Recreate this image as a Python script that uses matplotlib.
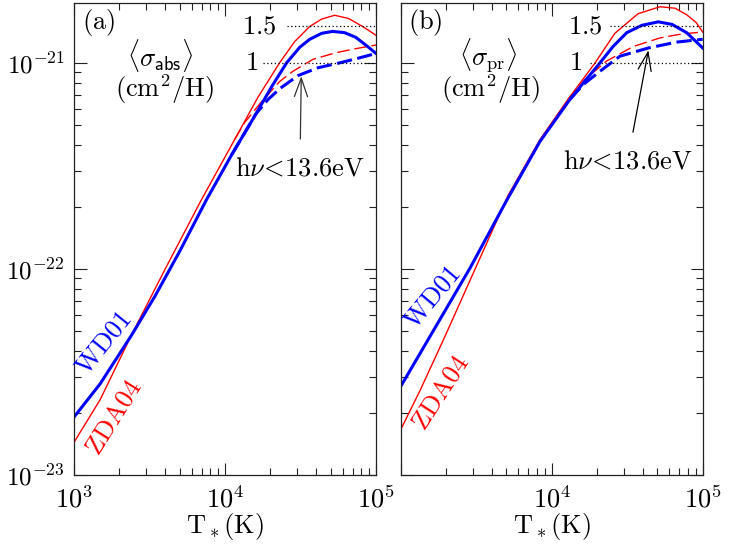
import math
import matplotlib
matplotlib.use("Agg")
import matplotlib.pyplot as plt
from matplotlib.ticker import FixedLocator, FuncFormatter, NullFormatter

plt.rcParams['mathtext.fontset'] = 'cm'
plt.rcParams['font.family'] = ['DejaVu Serif']

# ---------------- data ----------------
# Panel (a): <sigma_abs>  (cm^2/H) vs T_* (K)
a_wd_T = [1000, 1490, 2410, 3440, 5020, 7550, 11100, 16100, 20400, 25600,
          31300, 36400, 43700, 51600, 61900, 73300, 86700, 100000]
a_wd_S = [1.91e-23, 2.77e-23, 4.78e-23, 7.38e-23, 1.22e-22, 2.17e-22, 3.59e-22,
          5.68e-22, 7.67e-22, 1.00e-21, 1.19e-21, 1.30e-21, 1.39e-21, 1.42e-21,
          1.40e-21, 1.33e-21, 1.21e-21, 1.11e-21]
a_zd_T = [1000, 1490, 2410, 4000, 6920, 11600, 16500, 23000, 29000, 36400,
          43700, 53200, 65900, 81500, 100000]
a_zd_S = [1.44e-23, 2.32e-23, 4.80e-23, 9.93e-23, 2.14e-22, 4.25e-22, 6.79e-22,
          1.00e-21, 1.27e-21, 1.50e-21, 1.63e-21, 1.70e-21, 1.64e-21, 1.50e-21,
          1.36e-21]
a_wd13_T = [11100, 16100, 19300, 23000, 30500, 41300, 57800, 78000, 100000]
a_wd13_S = [3.59e-22, 5.68e-22, 6.64e-22, 7.48e-22, 8.67e-22, 9.46e-22,
            1.00e-21, 1.057e-21, 1.11e-21]
a_zd13_T = [11600, 13500, 17500, 23000, 28200, 38300, 54600, 73100, 100000]
a_zd13_S = [4.25e-22, 5.13e-22, 6.49e-22, 8.11e-22, 9.10e-22, 1.04e-21,
            1.12e-21, 1.17e-21, 1.22e-21]

# Panel (b): <sigma_pr>  (cm^2/H) vs T_* (K)
b_wd_T = [1000, 1560, 2880, 4980, 8360, 13200, 16600, 20900, 25500, 31400,
          39600, 50800, 62700, 78300, 100000]
b_wd_S = [2.69e-23, 4.69e-23, 1.01e-22, 2.12e-22, 4.15e-22, 6.64e-22, 8.16e-22,
          1.00e-21, 1.20e-21, 1.40e-21, 1.52e-21, 1.58e-21, 1.535e-21, 1.40e-21,
          1.18e-21]
b_zd_T = [1000, 1340, 1960, 3100, 5140, 8360, 12800, 19400, 26200, 37300,
          52100, 65600, 78300, 90400, 100000]
b_zd_S = [1.66e-23, 2.56e-23, 4.69e-23, 9.93e-23, 2.27e-22, 4.24e-22, 6.64e-22,
          1.00e-21, 1.39e-21, 1.73e-21, 1.87e-21, 1.84e-21, 1.71e-21, 1.57e-21,
          1.41e-21]
b_wd13_T = [13200, 16200, 20900, 28300, 43700, 67300, 100000]
b_wd13_S = [6.64e-22, 7.85e-22, 9.10e-22, 1.076e-21, 1.18e-21, 1.26e-21, 1.30e-21]
b_zd13_T = [12800, 16600, 23100, 34800, 52100, 72900, 100000]
b_zd13_S = [6.64e-22, 8.30e-22, 1.02e-21, 1.20e-21, 1.32e-21, 1.38e-21, 1.41e-21]

x_lim = (1e3, 1e5)
y_lim = (1e-23, 1.95e-21)
x_major = [1e3, 1e4, 1e5]
y_major = [1e-23, 1e-22, 1e-21]
ref_levels = [1.0e-21, 1.5e-21]
ref_labels = ['1', '1.5']

BLUE = '#0000ff'
RED = '#ff0000'
FS = 19

fig = plt.figure(figsize=(7.29, 5.45), dpi=100)
W, H = 729.0, 545.0
ax_a = fig.add_axes([74 / W, 1 - 475 / H, 302 / W, 472 / H])
ax_b = fig.add_axes([400.7 / W, 1 - 475 / H, 302 / W, 472 / H])


def minor_ticks(lo_exp, hi_exp, lo, hi):
    out = []
    for e in range(lo_exp, hi_exp + 1):
        for m in range(2, 10):
            v = m * 10.0 ** e
            if lo < v < hi:
                out.append(v)
    return out


def style_axes(ax, hide_first_x):
    ax.set_xscale('log')
    ax.set_yscale('log')
    ax.set_xlim(*x_lim)
    ax.set_ylim(*y_lim)
    ax.xaxis.set_major_locator(FixedLocator(x_major))
    ax.yaxis.set_major_locator(FixedLocator(y_major))
    ax.xaxis.set_minor_locator(FixedLocator(minor_ticks(3, 4, *x_lim)))
    ax.yaxis.set_minor_locator(FixedLocator(minor_ticks(-23, -21, *y_lim)))

    def fx(v, p):
        if hide_first_x and abs(v - x_lim[0]) < 1:
            return ''
        return r'$10^{%d}$' % round(math.log10(v))
    ax.xaxis.set_major_formatter(FuncFormatter(fx))
    ax.yaxis.set_major_formatter(FuncFormatter(lambda v, p: r'$10^{%d}$' % round(math.log10(v))))
    ax.xaxis.set_minor_formatter(NullFormatter())
    ax.yaxis.set_minor_formatter(NullFormatter())
    ax.tick_params(which='both', direction='in', top=True, right=True,
                   width=0.8, colors='#222222', labelsize=FS, labelcolor='black')
    ax.tick_params(which='major', length=9)
    ax.tick_params(which='minor', length=5)
    ax.tick_params(axis='x', which='major', pad=8)
    ax.tick_params(axis='y', which='major', pad=7, labelsize=18)
    if hide_first_x:
        ax.tick_params(axis='y', labelleft=False)
    for s in ax.spines.values():
        s.set_linewidth(0.9)
        s.set_color('#222222')
    ax.set_xlabel(r'$\mathrm{T}_*(\mathrm{K})$', fontsize=FS, labelpad=-1)


def draw_panel(ax, zd_T, zd_S, wd_T, wd_S, zd13_T, zd13_S, wd13_T, wd13_S):
    ax.plot(zd_T, zd_S, color=RED, lw=1.0)
    ax.plot(zd13_T, zd13_S, color=RED, lw=1.0, dashes=(9, 3.5))
    ax.plot(wd_T, wd_S, color=BLUE, lw=2.2)
    ax.plot(wd13_T, wd13_S, color=BLUE, lw=2.2, dashes=(5, 1.8))


style_axes(ax_a, False)
style_axes(ax_b, True)

draw_panel(ax_a, a_zd_T, a_zd_S, a_wd_T, a_wd_S, a_zd13_T, a_zd13_S, a_wd13_T, a_wd13_S)
draw_panel(ax_b, b_zd_T, b_zd_S, b_wd_T, b_wd_S, b_zd13_T, b_zd13_S, b_wd13_T, b_wd13_S)

# reference dotted levels and their labels
dot_start_a = [17800, 25600]
dot_start_b = [17900, 24300]
lab_x_a = [16500, 22000]
lab_x_b = [15900, 21500]
for ax, starts, labx in ((ax_a, dot_start_a, lab_x_a), (ax_b, dot_start_b, lab_x_b)):
    for lev, lab, x0, xl in zip(ref_levels, ref_labels, starts, labx):
        ax.plot([x0, x_lim[1]], [lev, lev], color='black', lw=0.9, ls=(0, (1, 2)))
        ax.text(xl, lev, r'$%s$' % lab, fontsize=FS, ha='right', va='center')

# panel labels and quantity labels
ax_a.text(0.026, 0.958, r'$(\mathrm{a})$', transform=ax_a.transAxes, fontsize=FS,
          ha='left', va='center')
ax_b.text(0.024, 0.958, r'$(\mathrm{b})$', transform=ax_b.transAxes, fontsize=FS,
          ha='left', va='center')
ax_a.text(0.285, 0.888, r'$\langle\sigma_{\mathsf{abs}}\rangle$', transform=ax_a.transAxes,
          fontsize=FS, ha='center', va='center')
ax_b.text(0.29, 0.888, r'$\langle\sigma_{\mathrm{pr}}\rangle$', transform=ax_b.transAxes,
          fontsize=FS, ha='center', va='center')
for ax, xc in ((ax_a, 0.298), (ax_b, 0.296)):
    ax.text(xc, 0.818, r'$(\mathrm{cm}^2/\mathrm{H})$', transform=ax.transAxes,
            fontsize=FS, ha='center', va='center')

# h nu < 13.6 eV annotations
ax_a.annotate(r'$\mathrm{h}\nu\!<\!13.6\mathrm{eV}$', xy=(32000, 8.6e-22),
              xytext=(0.748, 0.65), textcoords='axes fraction', fontsize=FS,
              ha='center', va='center',
              arrowprops=dict(arrowstyle='->,head_length=0.7,head_width=0.25',
                              color='#333333', lw=0.9, shrinkA=10, shrinkB=0))
ax_b.annotate(r'$\mathrm{h}\nu\!<\!13.6\mathrm{eV}$', xy=(43700, 1.15e-21),
              xytext=(0.751, 0.665), textcoords='axes fraction', fontsize=FS,
              ha='center', va='center',
              arrowprops=dict(arrowstyle='->,head_length=0.7,head_width=0.25',
                              color='black', lw=0.9, shrinkA=10, shrinkB=0))

# curve labels
ax_a.text(0.098, 0.28, r'$\mathrm{WD01}$', transform=ax_a.transAxes, fontsize=FS,
          color=BLUE, rotation=51, ha='center', va='center', rotation_mode='anchor')
ax_a.text(0.132, 0.123, r'$\mathrm{ZDA04}$', transform=ax_a.transAxes, fontsize=FS,
          color=RED, rotation=58, ha='center', va='center', rotation_mode='anchor')
ax_b.text(0.104, 0.377, r'$\mathrm{WD01}$', transform=ax_b.transAxes, fontsize=FS,
          color=BLUE, rotation=50, ha='center', va='center', rotation_mode='anchor')
ax_b.text(0.130, 0.174, r'$\mathrm{ZDA04}$', transform=ax_b.transAxes, fontsize=FS,
          color=RED, rotation=57, ha='center', va='center', rotation_mode='anchor')

fig.savefig('out.png', dpi=100)
